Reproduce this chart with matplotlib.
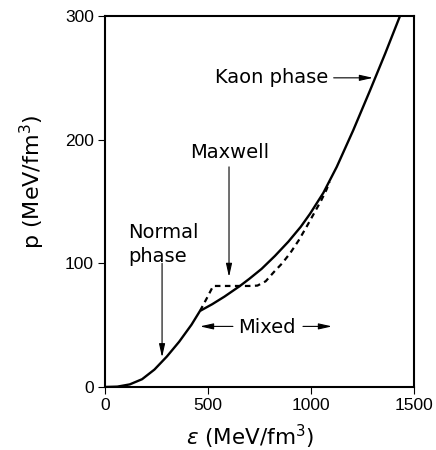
import matplotlib
matplotlib.use("Agg")
import matplotlib.pyplot as plt

plt.rcParams['font.family'] = ['DejaVu Sans']
plt.rcParams['mathtext.fontset'] = 'dejavusans'

# Solid curve (mixed-phase construction)
eps_solid = [0, 60, 120, 180, 240, 300, 360, 420, 461, 520, 580, 655, 700, 760,
             825, 890, 950, 995, 1060, 1125, 1205, 1286, 1360, 1432]
p_solid = [0, 0.3, 2.1, 6.3, 14.1, 24.6, 36.6, 50.4, 61.5, 66.9, 73.1, 81.7,
           87.4, 95.5, 106, 117.5, 129.5, 140, 157, 178, 207.6, 239.6, 269.6, 300]

# Dashed curve (Maxwell construction)
eps_dash = [461, 495, 525, 600, 700, 740, 780, 820, 860, 900, 940, 980, 1020,
            1050, 1075, 1090]
p_dash = [61.5, 72, 81.7, 81.7, 81.7, 82, 85.5, 93, 100, 108.5, 118.5, 130,
          142, 151, 159.5, 166]

xticks = [0, 500, 1000, 1500]
yticks = [0, 100, 200, 300]

fig = plt.figure(figsize=(4.36, 4.5), dpi=100)
ax = fig.add_axes([105/436, 1-387/450, (414-105)/436, (387-16)/450])

ax.plot(eps_solid, p_solid, color='black', lw=1.7, solid_joinstyle='round')
ax.plot(eps_dash, p_dash, color='black', lw=1.6, dashes=(2.5, 2))

ax.set_xlim(0, 1500)
ax.set_ylim(0, 300)
ax.set_xticks(xticks)
ax.set_yticks(yticks)
ax.tick_params(direction='out', length=5, width=0.8, pad=3)
for lab in ax.get_xticklabels() + ax.get_yticklabels():
    lab.set_family('Liberation Sans')
    lab.set_fontsize(12.5)
for s in ax.spines.values():
    s.set_linewidth(1.5)

ax.set_xlabel(r'$\varepsilon$ (MeV/fm$^{3}$)', fontsize=15.5)
ax.set_ylabel(r'p (MeV/fm$^{3}$)', fontsize=16)
ax.xaxis.set_label_coords(0.469, -0.135)
ax.xaxis.label.set_verticalalignment('center')
ax.yaxis.set_label_coords(-0.236, 0.553)
ax.yaxis.label.set_verticalalignment('center')

ap = dict(arrowstyle='-|>,head_length=0.8,head_width=0.18', color='black',
          lw=0.8, shrinkA=0, shrinkB=0, mutation_scale=10)

fs = 14
ax.text(1083, 246, 'Kaon phase', ha='right', va='baseline', fontsize=fs)
ax.annotate('', xy=(1301, 250), xytext=(1110, 250), arrowprops=ap)

ax.text(607, 185, 'Maxwell', ha='center', va='baseline', fontsize=fs)
ax.annotate('', xy=(602, 89), xytext=(602, 178), arrowprops=ap)

ax.text(112, 120.5, 'Normal', ha='left', va='baseline', fontsize=fs)
ax.text(112, 101, 'phase', ha='left', va='baseline', fontsize=fs)
ax.annotate('', xy=(277, 24), xytext=(277, 100), arrowprops=ap)

ax.text(786, 44, 'Mixed', ha='center', va='baseline', fontsize=fs)
ax.annotate('', xy=(461, 49), xytext=(621, 49), arrowprops=ap)
ax.annotate('', xy=(1102, 49), xytext=(961, 49), arrowprops=ap)

fig.savefig('out.png', dpi=100)
